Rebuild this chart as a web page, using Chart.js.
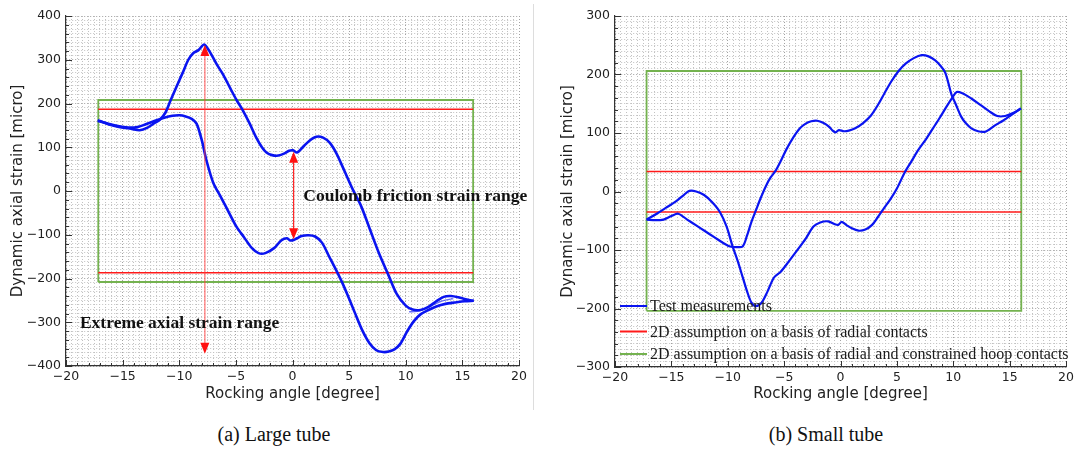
<!DOCTYPE html>
<html>
<head>
<meta charset="utf-8">
<script src="https://cdn.jsdelivr.net/npm/chart.js@4.4.1/dist/chart.umd.min.js"></script>
<style>
  body { margin: 0; background: #fff; width: 1077px; height: 449px; position: relative; overflow: hidden; }
  .panel { position: absolute; top: 0; }
  .cap { position: absolute; top: 423px; width: 300px; text-align: center; font-family: 'Liberation Serif', serif; font-size: 20px; color: #111; }
  #sep { position: absolute; left: 533px; top: 4px; width: 1px; height: 406px; background: #ddd; }
</style>
</head>
<body>
<div class="panel" style="left:0"><canvas id="large" width="533" height="403"></canvas></div>
<div id="sep"></div>
<div class="panel" style="left:534px"><canvas id="small" width="543" height="403"></canvas></div>
<div class="cap" style="left:124px">(a) Large tube</div>
<div class="cap" style="left:676px">(b) Small tube</div>
<script>
// (a) large tube: upper branch goes right, lower branch comes back
const largeUpperX = [-17.2, -16.2, -15.2, -14.2, -13.5, -12.8, -12.2, -11.7, -11.2, -10.8, -10.3, -9.7, -9.2, -8.77, -8.3, -7.8, -7.3, -6.7, -6.1, -5.5, -4.94, -4.4, -3.8, -3.2, -2.7, -2.3, -1.8, -1.25, -0.7, -0.3, 0.05, 0.4, 0.9, 1.5, 2.1, 2.7, 3.3, 3.9, 4.6, 5.35, 6.05, 6.8, 7.6, 8.5, 9.2, 10.0, 10.6, 11.3, 12.0, 12.7, 13.35, 14.0, 14.8, 15.4, 16.0];
const largeUpperY = [162, 152, 146, 142, 139, 145, 155, 163, 180, 205, 235, 270, 300, 315, 322, 335, 318, 290, 265, 235, 208, 185, 155, 122, 100, 88, 82, 81, 86, 92, 93, 88, 100, 115, 124, 122, 110, 85, 45, 2, -34, -85, -140, -194, -235, -262, -271, -272, -265, -252, -242, -240, -244, -248, -251];
const largeLowerX = [16.0, 15.2, 14.3, 13.5, 12.7, 12.0, 11.3, 10.7, 10.1, 9.5, 9.0, 8.5, 8.0, 7.4, 6.8, 6.1, 5.5, 4.9, 4.4, 3.8, 3.2, 2.6, 2.0, 1.4, 0.8, 0.4, 0.1, -0.2, -0.5, -1.0, -1.6, -2.4, -3.0, -3.6, -4.3, -4.94, -5.6, -6.3, -7.0, -7.6, -8.0, -8.47, -8.9, -9.5, -9.95, -10.6, -11.4, -12.2, -13.0, -13.7, -14.5, -15.5, -16.4, -17.2];
const largeLowerY = [-251, -252, -255, -258, -264, -272, -282, -298, -322, -350, -362, -367, -368, -364, -348, -315, -278, -240, -210, -178, -148, -118, -104, -101, -103, -108, -112, -113, -108, -113, -130, -142, -142, -130, -105, -82, -50, -15, 19, 70, 115, 154, 165, 171, 173, 172, 167, 160, 152, 146, 145, 149, 155, 160];
const largeExtraX = [10.3, 11.0, 11.8, 12.6, 13.4, 14.2];
const largeExtraY = [-276, -275, -268, -258, -250, -246];
const largeHoopX = [-17.15, 15.95];
const largeHoopY = [-208, 208];
const largeRadialY = [-187, 187];

// (b) small tube
const smallAX = [-17.2, -16.3, -15.5, -14.6, -13.9, -13.4, -12.8, -12.1, -11.4, -10.7, -10.1, -9.6, -9.1, -8.7, -8.3, -7.9, -7.5, -7.0, -6.5, -5.9, -5.3, -4.6, -3.9, -3.1, -2.4, -1.8, -1.1, -0.5, -0.2, 0.1, 0.5, 1.0, 1.6, 2.2, 2.8, 3.3, 3.8, 4.4, 5.0, 5.7, 6.3, 6.9, 7.6, 8.2, 8.8, 9.4, 9.9, 10.3, 10.8, 11.6, 12.4, 13.2, 13.9, 14.6, 15.3, 16.0];
const smallAY = [-48, -38, -28, -17, -6, 1, 0, -6, -18, -35, -60, -92, -120, -145, -170, -190, -196, -190, -172, -147, -137, -120, -102, -81, -60, -53, -51, -56, -57, -52, -57, -63, -67, -65, -57, -44, -30, -14, 5, 33, 52, 71, 90, 108, 126, 145, 160, 170, 168, 159, 148, 137, 129, 129, 134, 142];
const smallBX = [16.0, 15.1, 14.4, 13.7, 13.2, 12.8, 12.2, 11.6, 11.1, 10.7, 10.2, 9.85, 9.5, 9.27, 8.9, 8.4, 7.8, 7.2, 6.5, 5.8, 5.15, 4.5, 3.9, 3.38, 2.7, 2.0, 1.3, 0.73, 0.3, -0.15, -0.44, -0.7, -1.03, -1.5, -2.06, -2.6, -3.09, -3.6, -4.2, -4.8, -5.3, -5.74, -6.2, -6.6, -7.1, -7.5, -7.9, -8.3, -8.68, -9.2, -9.8, -10.4, -11.2, -12.0, -12.8, -13.6, -14.4, -15.0, -15.7, -16.4, -17.2];
const smallBY = [142, 130, 121, 113, 106, 102, 103, 108, 117, 128, 150, 165, 190, 204, 214, 224, 231, 233, 228, 219, 206, 188, 168, 150, 130, 117, 108, 104, 103, 105, 101, 104, 111, 117, 121, 120, 116, 108, 92, 72, 52, 36, 24, 10, -12, -32, -52, -76, -94, -95, -94, -88, -78, -68, -58, -48, -38, -42, -48, -49, -48];
const smallHoopX = [-17.2, 16.03];
const smallHoopY = [-204, 206];
const smallRadialY = [-35, 34];

const legendLabels = ['Test measurements', '2D assumption on a basis of radial contacts', '2D assumption on a basis of radial and constrained hoop contacts'];

const BLUE = '#0a14f0';
const RED = '#ff1a1a';
const GREEN = '#74b24f';

function pts(xs, ys) {
  return xs.map((x, i) => ({ x, y: ys[i] }));
}

function boxPts(xs, ys) {
  return [{ x: xs[0], y: ys[0] }, { x: xs[1], y: ys[0] }, { x: xs[1], y: ys[1] }, { x: xs[0], y: ys[1] }, { x: xs[0], y: ys[0] }];
}

function lineDs(data, color, width, tension) {
  return { data, borderColor: color, borderWidth: width, pointRadius: 0, fill: false, tension: tension || 0 };
}

function fmt(major) {
  return (v) => (v % major === 0 ? String(v).replace('-', '\u2212') : '');
}

function arrowHead(ctx, px, py, dir) {
  ctx.beginPath();
  ctx.moveTo(px, py);
  ctx.lineTo(px - 4.5, py + dir * 11);
  ctx.lineTo(px + 4.5, py + dir * 11);
  ctx.closePath();
  ctx.fill();
}

const overlay = {
  id: 'overlay',
  afterDatasetsDraw(chart, args, opts) {
    const { ctx, chartArea: a, scales: { x, y } } = chart;
    ctx.save();
    // small inward tick marks like the original axes
    ctx.strokeStyle = '#333';
    ctx.lineWidth = 1;
    ctx.beginPath();
    for (let v = -20; v <= 20; v += 1) {
      const px = Math.round(x.getPixelForValue(v)) + 0.5;
      ctx.moveTo(px, a.bottom);
      ctx.lineTo(px, a.bottom - (v % 5 === 0 ? 6 : 3));
    }
    for (let v = y.min; v <= y.max; v += 20) {
      const py = Math.round(y.getPixelForValue(v)) + 0.5;
      ctx.moveTo(a.left, py);
      ctx.lineTo(a.left + (v % 100 === 0 ? 6 : 3), py);
    }
    ctx.stroke();

    (opts.arrows || []).forEach((ar) => {
      const px = x.getPixelForValue(ar.x);
      const top = y.getPixelForValue(ar.from);
      const bot = y.getPixelForValue(ar.to);
      ctx.strokeStyle = ar.line;
      ctx.lineWidth = ar.width;
      ctx.beginPath();
      ctx.moveTo(px, top + 6);
      ctx.lineTo(px, bot - 6);
      ctx.stroke();
      ctx.fillStyle = ar.head;
      arrowHead(ctx, px, top, 1);
      arrowHead(ctx, px, bot, -1);
    });

    (opts.labels || []).forEach((lb) => {
      ctx.font = 'bold 17.5px "Liberation Serif", serif';
      ctx.fillStyle = '#111';
      ctx.textAlign = 'left';
      ctx.textBaseline = 'middle';
      ctx.fillText(lb.text, x.getPixelForValue(lb.x), y.getPixelForValue(lb.y));
    });

    if (opts.legend) {
      const rows = [a.bottom - 61, a.bottom - 35.5, a.bottom - 13];
      const colors = [BLUE, RED, GREEN];
      ctx.font = '16px "Liberation Serif", serif';
      ctx.textAlign = 'left';
      ctx.textBaseline = 'middle';
      opts.legend.forEach((txt, i) => {
        ctx.strokeStyle = colors[i];
        ctx.lineWidth = 2;
        ctx.beginPath();
        ctx.moveTo(a.left + 5, rows[i]);
        ctx.lineTo(a.left + 32, rows[i]);
        ctx.stroke();
        ctx.fillStyle = '#1a1a1a';
        ctx.fillText(txt, a.left + 35, rows[i] + 1);
      });
    }
    ctx.restore();
  }
};

function makeChart(id, datasets, yMin, yMax, padLeft, yWidth, xHeight, padRight, extra) {
  const gridOpts = (major) => ({
    drawTicks: false,
    color: (c) => (c.tick && c.tick.value % major === 0 ? '#a2a2a2' : '#c2c2c2'),
    lineWidth: 1
  });
  return new Chart(document.getElementById(id).getContext('2d'), {
    type: 'line',
    data: { datasets },
    options: {
      responsive: false,
      animation: false,
      layout: { padding: { left: padLeft, top: 16, right: padRight, bottom: 0 } },
      plugins: { legend: { display: false }, tooltip: { enabled: false }, overlay: extra },
      scales: {
        x: {
          type: 'linear', min: -20, max: 20,
          afterFit: (s) => { s.height = xHeight; },
          border: { display: true, color: '#333', width: 1.2, dash: [1, 2] },
          grid: gridOpts(5),
          ticks: {
            stepSize: 0.5, autoSkip: false, maxRotation: 0, padding: 3,
            color: '#222', font: { family: 'DejaVu Sans', size: 12.5 },
            callback: fmt(5)
          },
          title: { display: true, text: 'Rocking angle [degree]', color: '#222', padding: 0, font: { family: 'DejaVu Sans', size: 15 } }
        },
        y: {
          type: 'linear', min: yMin, max: yMax,
          afterFit: (s) => { s.width = yWidth; },
          border: { display: true, color: '#333', width: 1.2, dash: [1, 2] },
          grid: gridOpts(100),
          ticks: {
            stepSize: 10, autoSkip: false, padding: 5,
            color: '#222', font: { family: 'DejaVu Sans', size: 12.5 },
            callback: fmt(100)
          },
          title: { display: true, text: 'Dynamic axial strain [micro]', color: '#222', padding: 0, font: { family: 'DejaVu Sans', size: 15 } }
        }
      }
    },
    plugins: [overlay]
  });
}

makeChart('large', [
  lineDs(pts(largeUpperX, largeUpperY), BLUE, 2.6, 0.3),
  lineDs(pts(largeLowerX, largeLowerY), BLUE, 2.6, 0.3),
  lineDs(pts(largeExtraX, largeExtraY), 'rgba(40,50,240,0.7)', 1.5, 0.3),
  lineDs(pts(largeHoopX, [largeRadialY[0], largeRadialY[0]]), RED, 1.5),
  lineDs(pts(largeHoopX, [largeRadialY[1], largeRadialY[1]]), RED, 1.5),
  lineDs(boxPts(largeHoopX, largeHoopY), GREEN, 1.8)
], -400, 400, 9, 57, 37, 14, {
  arrows: [
    { x: -7.74, from: 334, to: -372, line: 'rgba(255,60,60,0.6)', head: '#ff1010', width: 1.5 },
    { x: 0.1, from: 90, to: -110, line: '#ff2020', head: '#ff1010', width: 1.2 }
  ],
  labels: [
    { x: 0.95, y: -13, text: 'Coulomb friction strain range' },
    { x: -18.77, y: -302, text: 'Extreme axial strain range' }
  ]
});

makeChart('small', [
  lineDs(pts(smallAX, smallAY), BLUE, 2.2, 0.3),
  lineDs(pts(smallBX, smallBY), BLUE, 2.2, 0.3),
  lineDs(pts(smallHoopX, [smallRadialY[0], smallRadialY[0]]), RED, 1.5),
  lineDs(pts(smallHoopX, [smallRadialY[1], smallRadialY[1]]), RED, 1.5),
  lineDs(boxPts(smallHoopX, smallHoopY), GREEN, 1.8)
], -300, 300, 25, 56, 36, 9, { legend: legendLabels });
</script>
</body>
</html>
